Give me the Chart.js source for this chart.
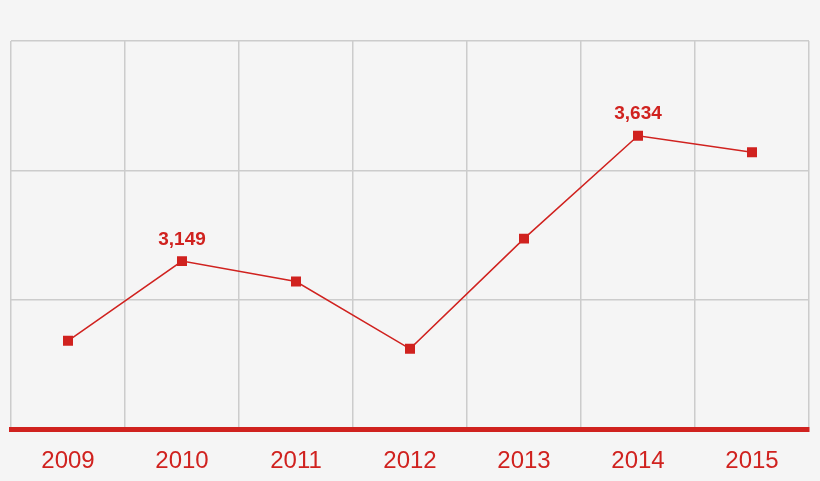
<!DOCTYPE html>
<html>
<head>
<meta charset="utf-8">
<script src="https://cdn.jsdelivr.net/npm/chart.js@4"></script>
<style>
  html, body { margin: 0; padding: 0; background: #f5f5f5; }
  #wrap { width: 820px; height: 481px; }
</style>
</head>
<body>
<div id="wrap"><canvas id="js-chart-line"></canvas></div>
<script>
// Chart data
const years = ['2009', '2010', '2011', '2012', '2013', '2014', '2015'];
const values = [2841, 3149, 3070, 2810, 3236, 3634, 3570];
const labelledYears = ['2010', '2014'];

const red = '#d0221f';

// Draws the value above selected points
const valueLabels = {
  id: 'valueLabels',
  afterDatasetsDraw(chart) {
    const ctx = chart.ctx;
    const meta = chart.getDatasetMeta(0);
    ctx.save();
    ctx.fillStyle = red;
    ctx.font = 'bold 19px "Liberation Sans", Arial, sans-serif';
    ctx.textAlign = 'center';
    ctx.textBaseline = 'bottom';
    meta.data.forEach((pt, i) => {
      if (labelledYears.includes(years[i])) {
        ctx.fillText(values[i].toLocaleString('en-US'), pt.x, pt.y - 12);
      }
    });
    ctx.restore();
  }
};

new Chart(document.getElementById('js-chart-line'), {
  type: 'line',
  data: {
    labels: years,
    datasets: [{
      data: values,
      borderColor: red,
      borderWidth: 1.5,
      pointStyle: 'rect',
      pointRadius: 6,
      pointBackgroundColor: red,
      pointBorderColor: red,
      tension: 0
    }]
  },
  options: {
    responsive: true,
    maintainAspectRatio: false,
    animation: false,
    layout: { padding: { left: 11, right: 11, top: 41, bottom: -12 } },
    plugins: { legend: { display: false }, tooltip: { enabled: false } },
    scales: {
      x: {
        offset: true,
        grid: { color: '#cccccc', lineWidth: 1.5, drawTicks: false, offset: true },
        border: { color: red, width: 5 },
        ticks: {
          color: red,
          padding: 20,
          font: { size: 24, lineHeight: 1, family: '"Liberation Sans", Arial, sans-serif' }
        }
      },
      y: {
        min: 2500,
        max: 4000,
        ticks: { stepSize: 500, display: false },
        grid: { color: '#cccccc', lineWidth: 1.5, drawTicks: false },
        border: { display: false }
      }
    }
  },
  plugins: [valueLabels]
});
</script>
</body>
</html>
